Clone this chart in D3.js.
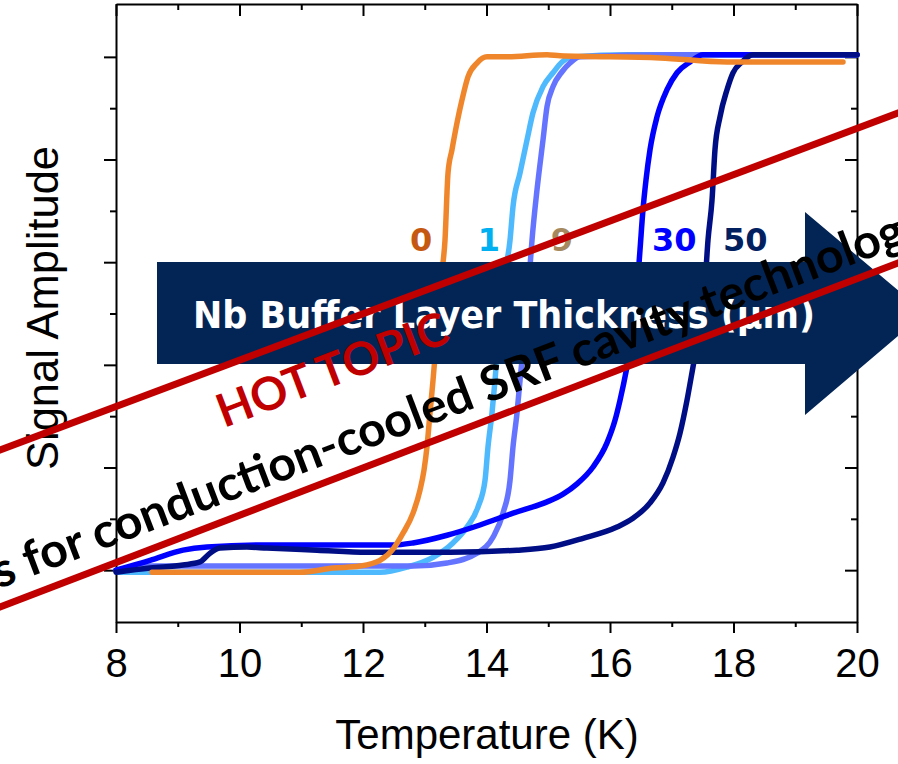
<!DOCTYPE html>
<html>
<head>
<meta charset="utf-8">
<script src="https://cdn.jsdelivr.net/npm/d3@7"></script>
<style>
  html, body { margin: 0; padding: 0; background: #fff; }
  svg { display: block; }
</style>
</head>
<body>
<svg id="chart" width="898" height="764"></svg>
<script>
// Axis ticks
const tempTicks = [8, 10, 12, 14, 16, 18, 20];
const tempMinor = [9, 11, 13, 15, 17, 19];
const ampTicks = [0, 0.2, 0.4, 0.6, 0.8, 1.0];
const ampMinor = [0.1, 0.3, 0.5, 0.7, 0.9];

// Normalised signal amplitude vs temperature (K) for each Nb buffer layer thickness
const thk0 = [[8.583,-0.004],[9.360,-0.004],[10.170,-0.004],[10.980,-0.004],[11.514,0.004],[11.951,0.008],
  [12.275,0.019],[12.486,0.041],[12.648,0.072],[12.810,0.111],[12.923,0.156],[12.988,0.195],[13.036,0.240],
  [13.085,0.306],[13.134,0.370],[13.215,0.487],[13.263,0.565],[13.328,0.643],[13.377,0.774],[13.441,0.819],
  [13.522,0.871],[13.603,0.916],[13.700,0.961],[13.846,0.988],[14.008,1.000],[14.332,1.000],[14.980,1.004],
  [15.190,1.002],[16.810,0.998],[17.895,0.990],[19.773,0.990]];
const thk1 = [[8.016,-0.004],[9.360,-0.004],[10.980,-0.004],[12.275,-0.004],[12.713,0.006],[13.134,0.025],
  [13.457,0.053],[13.684,0.084],[13.862,0.123],[13.976,0.175],[14.024,0.240],[14.089,0.306],[14.138,0.370],
  [14.202,0.468],[14.283,0.565],[14.381,0.643],[14.429,0.708],[14.543,0.774],[14.656,0.838],[14.753,0.891],
  [14.915,0.942],[15.077,0.969],[15.223,0.990],[15.401,1.000],[16.300,1.004],[20.000,1.004]];
const thk9 = [[8.000,0.000],[8.551,0.008],[9.360,0.008],[10.980,0.008],[12.275,0.008],[12.810,0.008],
  [13.360,0.014],[13.846,0.033],[14.105,0.064],[14.267,0.111],[14.381,0.175],[14.429,0.240],[14.494,0.306],
  [14.543,0.370],[14.623,0.468],[14.688,0.565],[14.737,0.643],[14.818,0.741],[14.915,0.838],[14.980,0.903],
  [15.077,0.942],[15.223,0.971],[15.352,0.988],[15.514,1.000],[17.000,1.004],[20.000,1.004]];
const thk30 = [[8.000,0.000],[8.551,0.019],[9.085,0.039],[9.474,0.045],[10.445,0.049],[11.514,0.049],
  [12.486,0.049],[12.810,0.053],[13.360,0.068],[13.895,0.088],[14.429,0.111],[14.980,0.133],[15.239,0.148],
  [15.466,0.168],[15.725,0.201],[15.951,0.248],[16.081,0.292],[16.162,0.331],[16.275,0.396],
  [16.372,0.462],[16.437,0.546],[16.486,0.624],[16.534,0.702],[16.583,0.760],[16.648,0.819],[16.761,0.883],
  [16.923,0.936],[17.085,0.969],[17.296,0.990],[17.506,1.004],[20.000,1.004]];
const thk50 = [[8.000,-0.004],[8.551,0.004],[9.085,0.010],[9.360,0.016],[9.522,0.033],[9.684,0.043],
  [10.121,0.045],[10.445,0.043],[11.255,0.039],[12.065,0.035],[12.599,0.035],[13.409,0.035],[14.494,0.039],
  [15.028,0.045],[15.563,0.062],[16.113,0.084],[16.372,0.101],[16.648,0.131],[16.858,0.170],[17.020,0.220],
  [17.134,0.267],[17.247,0.331],[17.344,0.396],[17.441,0.462],[17.522,0.526],[17.587,0.643],[17.652,0.721],
  [17.700,0.819],[17.781,0.883],[17.895,0.936],[17.992,0.969],[18.138,0.990],[18.316,1.004],[20.000,1.004]];

const thicknessLabels = ["0", "1", "9", "30", "50"];

const svg = d3.select("#chart");

const x = d3.scaleLinear().domain([8, 20]).range([116, 857]);
const y = d3.scaleLinear().domain([-0.101, 1.103]).range([622, 4]);

const axisFont = "'Liberation Sans', Arial, sans-serif";

function styleAxis(g) {
  g.select(".domain").attr("stroke", "#000").attr("stroke-width", 2);
  g.selectAll(".tick line").attr("stroke", "#000").attr("stroke-width", 2);
}

// Frame with ticks: outward on bottom/left, inward on top/right
const gBottom = svg.append("g").attr("transform", `translate(0,${y.range()[0]})`)
  .call(d3.axisBottom(x).tickValues(tempTicks).tickSize(11).tickSizeOuter(0).tickPadding(16)
    .tickFormat(d3.format("d")));
gBottom.call(styleAxis);
gBottom.selectAll("text").attr("font-family", axisFont).attr("font-size", 40).attr("fill", "#000");
svg.append("g").attr("transform", `translate(0,${y.range()[0]})`)
  .call(d3.axisBottom(x).tickValues(tempMinor).tickSize(5).tickSizeOuter(0).tickFormat(""))
  .call(styleAxis).select(".domain").remove();

svg.append("g").attr("transform", `translate(0,${y.range()[1]})`)
  .call(d3.axisTop(x).tickValues(tempTicks).tickSize(-12).tickSizeOuter(0).tickFormat(""))
  .call(styleAxis);
svg.append("g").attr("transform", `translate(0,${y.range()[1]})`)
  .call(d3.axisTop(x).tickValues(tempMinor).tickSize(-6).tickSizeOuter(0).tickFormat(""))
  .call(styleAxis).select(".domain").remove();

svg.append("g").attr("transform", `translate(${x.range()[0]},0)`)
  .call(d3.axisLeft(y).tickValues(ampTicks).tickSize(12).tickSizeOuter(0).tickFormat(""))
  .call(styleAxis);
svg.append("g").attr("transform", `translate(${x.range()[0]},0)`)
  .call(d3.axisLeft(y).tickValues(ampMinor).tickSize(6).tickSizeOuter(0).tickFormat(""))
  .call(styleAxis).select(".domain").remove();

svg.append("g").attr("transform", `translate(${x.range()[1]},0)`)
  .call(d3.axisRight(y).tickValues(ampTicks).tickSize(-12).tickSizeOuter(0).tickFormat(""))
  .call(styleAxis);
svg.append("g").attr("transform", `translate(${x.range()[1]},0)`)
  .call(d3.axisRight(y).tickValues(ampMinor).tickSize(-6).tickSizeOuter(0).tickFormat(""))
  .call(styleAxis).select(".domain").remove();

// Axis titles
svg.append("text")
  .attr("x", 487).attr("y", 749)
  .attr("text-anchor", "middle")
  .attr("font-family", axisFont).attr("font-size", 42).attr("fill", "#000")
  .text("Temperature (K)");
svg.append("text")
  .attr("transform", "translate(58,308) rotate(-90)")
  .attr("text-anchor", "middle")
  .attr("font-family", axisFont).attr("font-size", 43.5).attr("fill", "#000")
  .text("Signal Amplitude");

// Transition curves
const line = d3.line().x(d => x(d[0])).y(d => y(d[1])).curve(d3.curveMonotoneX);
const series = [
  { data: thk1, color: "#4fb9fd" },
  { data: thk9, color: "#6474ff" },
  { data: thk30, color: "#0000ff" },
  { data: thk50, color: "#000e86" },
  { data: thk0, color: "#f0862c" }
];
svg.append("g").selectAll("path").data(series).join("path")
  .attr("d", d => line(d.data))
  .attr("fill", "none")
  .attr("stroke", d => d.color)
  .attr("stroke-width", 5.5)
  .attr("stroke-linejoin", "round")
  .attr("stroke-linecap", "round");

// Thickness labels above the curves
const labelColors = ["#c65911", "#00b0f0", "#a6895e", "#0000ff", "#002060"];
const labelTemps = [12.94, 14.04, 15.22, 17.04, 18.19];
svg.append("g").selectAll("text").data(thicknessLabels).join("text")
  .attr("x", (d, i) => x(labelTemps[i]))
  .attr("y", y(0.622))
  .attr("text-anchor", "middle")
  .attr("font-family", "'DejaVu Sans', Verdana, sans-serif")
  .attr("font-weight", "bold")
  .attr("font-size", 32)
  .attr("fill", (d, i) => labelColors[i])
  .text(d => d);

// Direction arrow
const arrowColor = "#022556";
svg.append("path")
  .attr("d", "M157,262 L805,262 L805,212 L925,313 L805,415 L805,364 L157,364 Z")
  .attr("fill", arrowColor);
svg.append("text")
  .attr("x", 193).attr("y", 328)
  .attr("font-family", "'DejaVu Sans', Verdana, sans-serif")
  .attr("font-weight", "bold")
  .attr("font-size", 37)
  .attr("fill", "#fff")
  .attr("textLength", 622).attr("lengthAdjust", "spacingAndGlyphs")
  .text("Nb Buffer Layer Thickness (\u03bcm)");

// Diagonal banner
const bannerRed = "#c00000";
svg.append("line").attr("x1", -20).attr("y1", 457.5).attr("x2", 920).attr("y2", 104.7)
  .attr("stroke", bannerRed).attr("stroke-width", 7);
svg.append("line").attr("x1", -20).attr("y1", 614.7).attr("x2", 920).attr("y2", 254.5)
  .attr("stroke", bannerRed).attr("stroke-width", 7);

const bannerFont = "Lato, 'Open Sans', sans-serif";
svg.append("text")
  .attr("transform", "translate(224,428) rotate(-20.8)")
  .attr("font-family", bannerFont).attr("font-weight", 700).attr("font-size", 46)
  .attr("fill", bannerRed)
  .text("HOT TOPIC");

const tg = svg.append("g").attr("transform", "translate(30,577) rotate(-20.8)");
tg.append("text")
  .attr("text-anchor", "end")
  .attr("font-family", bannerFont).attr("font-weight", 700).attr("font-size", 48)
  .attr("fill", "#000")
  .text("Prospects\u00a0");
tg.append("text")
  .attr("font-family", bannerFont).attr("font-weight", 700).attr("font-size", 48)
  .attr("fill", "#000")
  .attr("textLength", 965).attr("lengthAdjust", "spacingAndGlyphs")
  .text("for conduction-cooled SRF cavity technology");
</script>
</body>
</html>
